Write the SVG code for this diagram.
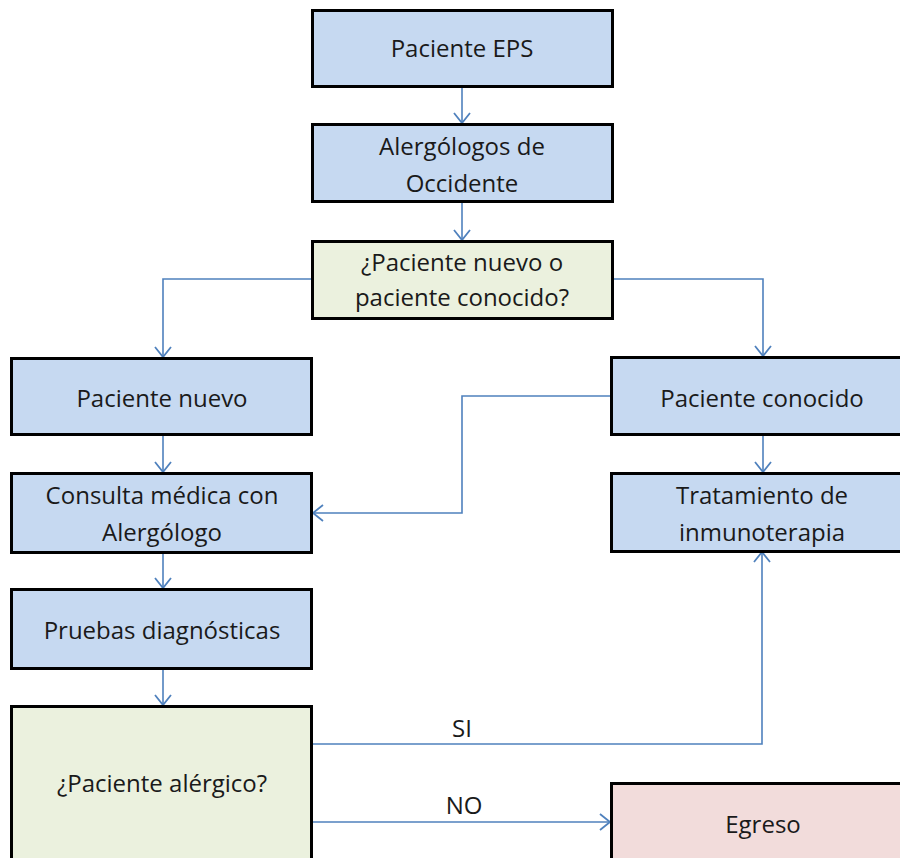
<svg xmlns="http://www.w3.org/2000/svg" width="900" height="858" viewBox="0 0 900 858">
<style>
.box{stroke:#000;stroke-width:3}
.blue{fill:#C6D9F1}
.green{fill:#EBF1DE}
.pink{fill:#F2DCDB}
.t{font-family:"Open Sans","Liberation Sans",sans-serif;font-size:24px;fill:#1a1a1a;text-anchor:middle}
.c{fill:none;stroke:#4F81BD;stroke-width:1.6}
</style>
<defs>
<marker id="arr" markerUnits="userSpaceOnUse" markerWidth="20" markerHeight="20" viewBox="-12 -10 14 20" refX="0" refY="0" orient="auto">
<path d="M-10,-8 L0,0 L-10,8" fill="none" stroke="#4F81BD" stroke-width="1.8"/>
</marker>
</defs>
<rect width="900" height="858" fill="#fff"/>
<g id="connectors">
<path class="c" d="M462,86 V123" marker-end="url(#arr)"/>
<path class="c" d="M462,202 V240" marker-end="url(#arr)"/>
<path class="c" d="M312,279 H163 V357" marker-end="url(#arr)"/>
<path class="c" d="M612,279 H763 V356" marker-end="url(#arr)"/>
<path class="c" d="M163,434 V472" marker-end="url(#arr)"/>
<path class="c" d="M611,396 H462 V513 H313" marker-end="url(#arr)"/>
<path class="c" d="M763,434 V472" marker-end="url(#arr)"/>
<path class="c" d="M163,552 V588" marker-end="url(#arr)"/>
<path class="c" d="M163,668 V705" marker-end="url(#arr)"/>
<path class="c" d="M312,744 H762 V552" marker-end="url(#arr)"/>
<path class="c" d="M312,822 H610" marker-end="url(#arr)"/>
<text class="t" x="462" y="737">SI</text>
<text class="t" x="464" y="814">NO</text>
</g>
<g id="n1"><rect class="box blue" x="312.5" y="10.5" width="300" height="76"/><text class="t" x="462" y="57">Paciente EPS</text></g>
<g id="n2"><rect class="box blue" x="312.5" y="124.5" width="300" height="77"/><text class="t" x="462" y="155">Alergólogos de</text><text class="t" x="462" y="192">Occidente</text></g>
<g id="n3"><rect class="box green" x="312.5" y="241.5" width="300" height="77"/><text class="t" x="462" y="271">¿Paciente nuevo o</text><text class="t" x="462" y="306">paciente conocido?</text></g>
<g id="n4"><rect class="box blue" x="11.5" y="358.5" width="300" height="76"/><text class="t" x="162" y="407">Paciente nuevo</text></g>
<g id="n5"><rect class="box blue" x="611.5" y="357.5" width="302" height="77"/><text class="t" x="762" y="407">Paciente conocido</text></g>
<g id="n6"><rect class="box blue" x="11.5" y="473.5" width="300" height="79"/><text class="t" x="162" y="504">Consulta médica con</text><text class="t" x="162" y="541">Alergólogo</text></g>
<g id="n7"><rect class="box blue" x="611.5" y="473.5" width="302" height="78"/><text class="t" x="762" y="504">Tratamiento de</text><text class="t" x="762" y="541">inmunoterapia</text></g>
<g id="n8"><rect class="box blue" x="11.5" y="589.5" width="300" height="79"/><text class="t" x="162" y="639">Pruebas diagnósticas</text></g>
<g id="n9"><rect class="box green" x="11.5" y="706.5" width="300" height="170"/><text class="t" x="162" y="792">¿Paciente alérgico?</text></g>
<g id="n10"><rect class="box pink" x="611.5" y="783.5" width="302" height="100"/><text class="t" x="763" y="833">Egreso</text></g>
</svg>
